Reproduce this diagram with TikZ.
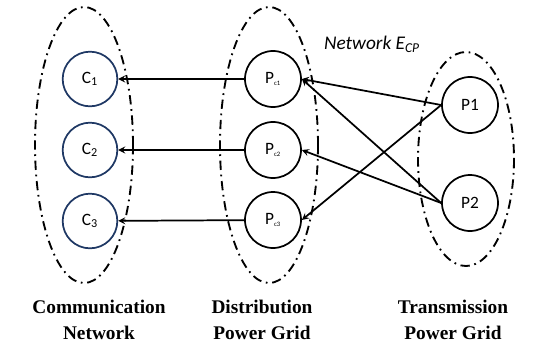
\documentclass[tikz,border=0pt]{standalone}
\usepackage{fontspec}
\setmainfont{Carlito}
\newfontfamily\labelfont{Liberation Serif}
\usepackage{tikz}
\usepackage{amsmath,amssymb}
\definecolor{navy}{HTML}{1F3864}
\tikzset{
  group/.style={line width=1.4pt, dash pattern=on 7pt off 3.5pt on 1.3pt off 3.5pt},
  cnode/.style={circle, draw=navy, line width=1.3pt, minimum size=41pt, inner sep=0pt, font=\fontsize{13}{14}\selectfont},
  pnode/.style={circle, draw, line width=1.3pt, minimum size=42pt, inner sep=0pt, font=\fontsize{13}{14}\selectfont},
  caption/.style={align=center, font=\labelfont\bfseries\fontsize{14.5}{20}\selectfont}
}

\begin{document}
\begin{tikzpicture}[x=0.75pt, y=-0.75pt, >=stealth]
    \useasboundingbox (0,0) rectangle (550,354);
    \draw [group] (84,145) ellipse [x radius=49, y radius=138];
    \draw [group] (269,145) ellipse [x radius=49, y radius=138];
    \draw [group] (466,159) ellipse [x radius=48, y radius=107];
    \node [cnode] (c1) at (90,79) {C\textsubscript{1}};
    \node [cnode] (c2) at (90,150) {C\textsubscript{2}};
    \node [cnode] (c3) at (90,221) {C\textsubscript{3}};
    \node [pnode] (pc1) at (273,79) {P\textsubscript{\tiny c1}};
    \node [pnode] (pc2) at (273,150) {P\textsubscript{\tiny c2}};
    \node [pnode] (pc3) at (273,220) {P\textsubscript{\tiny c3}};
    \node [pnode] (p1) at (470,105) {P1};
    \node [pnode] (p2) at (470,203) {P2};
    \draw [->, line width=1.3pt] (pc1) -- (c1);
    \draw [->, line width=1.3pt] (pc2) -- (c2);
    \draw [->, line width=1.3pt] (pc3) -- (c3);
    \draw [->, line width=1.3pt] (p1.west) -- (pc1.east);
    \draw [->, line width=1.3pt] (p1.west) -- (pc3.east);
    \draw [->, line width=1.3pt] (p2.west) -- (pc1.east);
    \draw [->, line width=1.3pt] (p2.west) -- (pc2.east);
    \node [font=\itshape\fontsize{14.5}{16}\selectfont] (ecp) at (372,44) {Network E\textsubscript{CP}};
    \node [caption] (comm) at (99,320) {Communication\\Network};
    \node [caption] (dist) at (262,320) {Distribution\\Power Grid};
    \node [caption] (trans) at (453,320) {Transmission\\Power Grid};
  \end{tikzpicture}
\end{document}
